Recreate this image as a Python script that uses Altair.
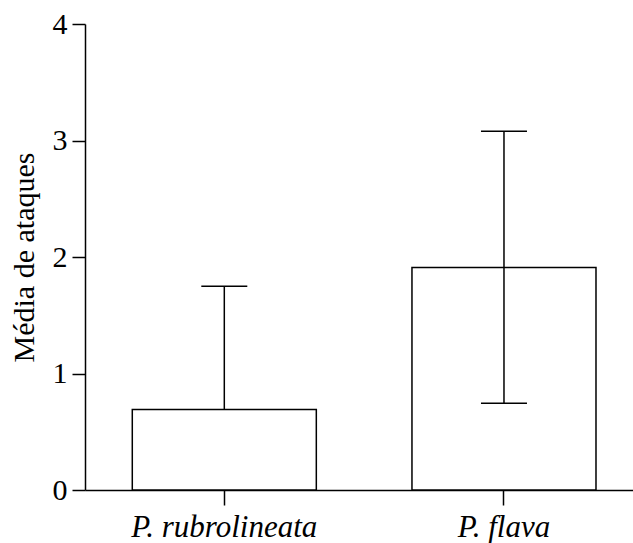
import altair as alt
import pandas as pd

categories = ["P. rubrolineata", "P. flava"]
means = [0.69, 1.91]
upper = [1.75, 3.08]
lower = [0.69, 0.745]  # bar 1 shows only the upper whisker

bars = pd.DataFrame({"cat": categories, "mean": means, "lo": lower, "hi": upper})
cap_cats = ["P. rubrolineata", "P. flava", "P. flava"]
cap_vals = [1.75, 3.08, 0.745]
caps = pd.DataFrame({"cat": cap_cats, "v": cap_vals})

FONT = "Liberation Serif"
LW = 1.5

x = alt.X("cat:N", sort=categories, title=None,
          scale=alt.Scale(paddingInner=0.342, paddingOuter=0.1507, align=0.561),
          axis=alt.Axis(labelAngle=0, labelFontStyle="italic", labelFont=FONT,
                        labelFontSize=31, labelColor="black", labelPadding=7,
                        labelLimit=0,
                        tickSize=15, tickColor="black", tickWidth=LW,
                        domainColor="black", domainWidth=LW, grid=False))

yscale = alt.Scale(domain=[0, 4], nice=False, zero=True)
yaxis = alt.Axis(values=[0, 1, 2, 3, 4], format="d", title="Média de ataques", titleFont=FONT,
                 titleFontSize=30, titleFontWeight="normal", titleColor="black",
                 titleAngle=-90, titleX=-52, titleY=233, titleBaseline="alphabetic",
                 titleAlign="center",
                 labelFont=FONT, labelFontSize=30, labelColor="black", labelPadding=5,
                 tickSize=13, tickColor="black", tickWidth=LW,
                 domainColor="black", domainWidth=LW, grid=False)

bar_layer = alt.Chart(bars).mark_bar(fill="white", stroke="black", strokeWidth=LW).encode(
    x=x, y=alt.Y("mean:Q", scale=yscale, axis=yaxis))

rule_layer = alt.Chart(bars).mark_rule(color="black", strokeWidth=LW).encode(
    x=alt.X("cat:N", sort=categories), y=alt.Y("lo:Q"), y2="hi:Q")

cap_layer = alt.Chart(caps).mark_tick(color="black", size=46, thickness=LW, opacity=1).encode(
    x=alt.X("cat:N", sort=categories), y=alt.Y("v:Q"))

chart = alt.layer(bar_layer, rule_layer, cap_layer).properties(
    width=548, height=466,
    padding={"left": 85, "top": 24, "right": 0, "bottom": 53},
    autosize=alt.AutoSizeParams(type="none"),
    background="white",
).configure_view(stroke=None)

chart.save("out.html", embed_options={"renderer": "svg", "actions": False})
